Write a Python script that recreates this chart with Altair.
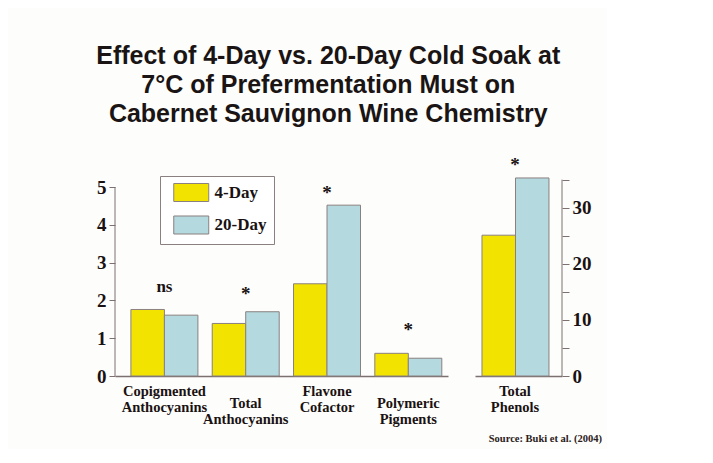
import altair as alt
import pandas as pd

# ---- data ----
categories = ["Copigmented Anthocyanins", "Total Anthocyanins", "Flavone Cofactor", "Polymeric Pigments"]
series = ["4-Day", "20-Day"]
values_4day = [1.76, 1.39, 2.44, 0.60]
values_20day = [1.61, 1.70, 4.52, 0.47]
sig_labels = ["ns", "*", "*", "*"]
sig_heights = [2.36, 2.16, 4.84, 1.22]

phenols_category = ["Total Phenols"]
phenols_4day = [25.1]
phenols_20day = [35.3]
phenols_sig = ["*"]
phenols_sig_height = [37.6]

left_ticks = [0, 1, 2, 3, 4, 5]
right_ticks = [0, 5, 10, 15, 20, 25, 30, 35]

title_lines = ["Effect of 4-Day vs. 20-Day Cold Soak at",
               "7°C of Prefermentation Must on",
               "Cabernet Sauvignon Wine Chemistry"]
source_text = "Source: Buki et al. (2004)"

colors = ["#f3e300", "#b4d9df"]
ink = "#1a1212"
axis_col = "#7d7070"
bar_stroke = "#8a8080"
serif = "Liberation Serif"

# ---- tables ----
left_df = pd.DataFrame({
    "category": categories * 2,
    "series": [series[0]] * len(categories) + [series[1]] * len(categories),
    "value": values_4day + values_20day,
})
left_sig = pd.DataFrame({"category": categories, "label": sig_labels, "y": sig_heights})
left_dom = pd.DataFrame({"lo": [left_ticks[0]], "hi": [left_ticks[-1]]})

right_df = pd.DataFrame({
    "category": phenols_category * 2,
    "series": series,
    "value": phenols_4day + phenols_20day,
})
right_sig = pd.DataFrame({"category": phenols_category, "label": phenols_sig, "y": phenols_sig_height})
right_dom = pd.DataFrame({"lo": [right_ticks[0]], "hi": [right_ticks[-1]]})

H = 225
LEFT_W = 333
RIGHT_W = 87
left_max = H / 37.8
right_max = H / 5.61

stagger = categories[1::2]
stagger_test = " || ".join([f"datum.value == '{c}'" for c in stagger])

color_enc = alt.Color(
    "series:N", sort=series,
    scale=alt.Scale(domain=series, range=colors),
    legend=alt.Legend(
        title=None, orient="none", legendX=45, legendY=25,
        direction="vertical",
        symbolType="M-2,-1.03L2,-1.03L2,1.03L-2,1.03Z",
        symbolSize=306, symbolStrokeColor=bar_stroke, symbolStrokeWidth=1,
        symbolOpacity=1, symbolOffset=14.75,
        labelFont=serif, labelFontWeight="bold", labelFontSize=17, labelColor=ink,
        labelOffset=13.75, rowPadding=9.5, padding=7,
        strokeColor=bar_stroke, fillColor="#ffffff",
        labelExpr="datum.label == '4-Day' ? '\u2007' + datum.label : datum.label",
    ),
)

x_axis_common = dict(
    title=None, labelAngle=0, ticks=False, domainColor=axis_col, domainWidth=1.5,
    labelFont=serif, labelFontWeight="bold", labelFontSize=14.5, labelColor=ink,
    labelLineHeight=16, labelExpr="split(datum.label, ' ')", labelBaseline="top",
)

# ---- left panel ----
xl_scale = alt.Scale(paddingInner=0.176, paddingOuter=0.136, align=0.72)
xl_axis = alt.Axis(labelPadding={"condition": {"test": stagger_test, "value": 20}, "value": 8},
                   **x_axis_common)
yl_scale = alt.Scale(domain=[0, left_max], nice=False, zero=True)
yl_axis = alt.Axis(title=None, orient="left", values=left_ticks, domain=False, grid=False,
                   tickSize=6, tickColor=axis_col, labelPadding=3,
                   labelExpr="datum.value % 1 == 0 ? datum.label : ''",
                   labelFont=serif, labelFontWeight="bold", labelFontSize=19, labelColor=ink)

left_bars = alt.Chart(left_df).mark_bar(stroke=bar_stroke, strokeWidth=1).encode(
    x=alt.X("category:N", sort=categories, scale=xl_scale, axis=xl_axis),
    xOffset=alt.XOffset("series:N", sort=series, scale=alt.Scale(paddingInner=0, paddingOuter=0)),
    y=alt.Y("value:Q", scale=yl_scale, axis=yl_axis),
    color=color_enc,
)
left_rule = alt.Chart(left_dom).mark_rule(color=axis_col, strokeWidth=1).encode(
    x=alt.value(0), y=alt.Y("lo:Q", scale=yl_scale, axis=yl_axis), y2="hi:Q")
left_text = alt.Chart(left_sig).mark_text(font=serif, fontWeight="bold", color=ink, baseline="middle").encode(
    x=alt.X("category:N", sort=categories, scale=xl_scale, axis=xl_axis),
    y=alt.Y("y:Q", scale=yl_scale, axis=yl_axis),
    text="label:N",
    size=alt.condition("datum.label == 'ns'", alt.value(17), alt.value(19)),
)
left = alt.layer(left_bars, left_rule, left_text).properties(width=LEFT_W, height=H)

# ---- right panel ----
xr_scale = alt.Scale(paddingInner=0, paddingOuter=0.159, align=0.333)
xr_axis = alt.Axis(labelPadding=8, **x_axis_common)
yr_scale = alt.Scale(domain=[0, right_max], nice=False, zero=True)
yr_axis = alt.Axis(title=None, orient="right", values=right_ticks, domain=False, grid=False,
                   tickSize=7, tickColor=axis_col, labelPadding=3,
                   labelExpr="datum.value % 10 == 0 ? datum.label : ''",
                   labelFont=serif, labelFontWeight="bold", labelFontSize=19, labelColor=ink)

right_bars = alt.Chart(right_df).mark_bar(stroke=bar_stroke, strokeWidth=1).encode(
    x=alt.X("category:N", sort=phenols_category, scale=xr_scale, axis=xr_axis),
    xOffset=alt.XOffset("series:N", sort=series, scale=alt.Scale(paddingInner=0, paddingOuter=0)),
    y=alt.Y("value:Q", scale=yr_scale, axis=yr_axis),
    color=color_enc,
)
right_rule = alt.Chart(right_dom).mark_rule(color=axis_col, strokeWidth=1).encode(
    x=alt.value(RIGHT_W), y=alt.Y("lo:Q", scale=yr_scale, axis=yr_axis), y2="hi:Q")
right_text = alt.Chart(right_sig).mark_text(font=serif, fontWeight="bold", color=ink,
                                            baseline="middle", fontSize=19).encode(
    x=alt.X("category:N", sort=phenols_category, scale=xr_scale, axis=xr_axis),
    y=alt.Y("y:Q", scale=yr_scale, axis=yr_axis),
    text="label:N",
)
right = alt.layer(right_bars, right_rule, right_text).properties(
    width=RIGHT_W, height=H,
    title=alt.TitleParams(source_text, orient="bottom", anchor="end", frame="group",
                          dx=40, offset=20, font=serif, fontWeight="bold", fontSize=10.5,
                          color="#2a2020"),
)

chart = alt.hconcat(left, right, spacing=27, bounds="flush").properties(
    title=alt.TitleParams(title_lines, font="Liberation Sans", fontSize=25, fontWeight="bold",
                          lineHeight=29, anchor="middle", offset=24, dx=-21, color="#1a1414"),
    padding={"left": 88, "top": 36, "right": 5, "bottom": 5},
    background="#fdfdfb",
).configure_view(stroke=None)

chart.save("out.html", embed_options={"renderer": "svg", "actions": False})
